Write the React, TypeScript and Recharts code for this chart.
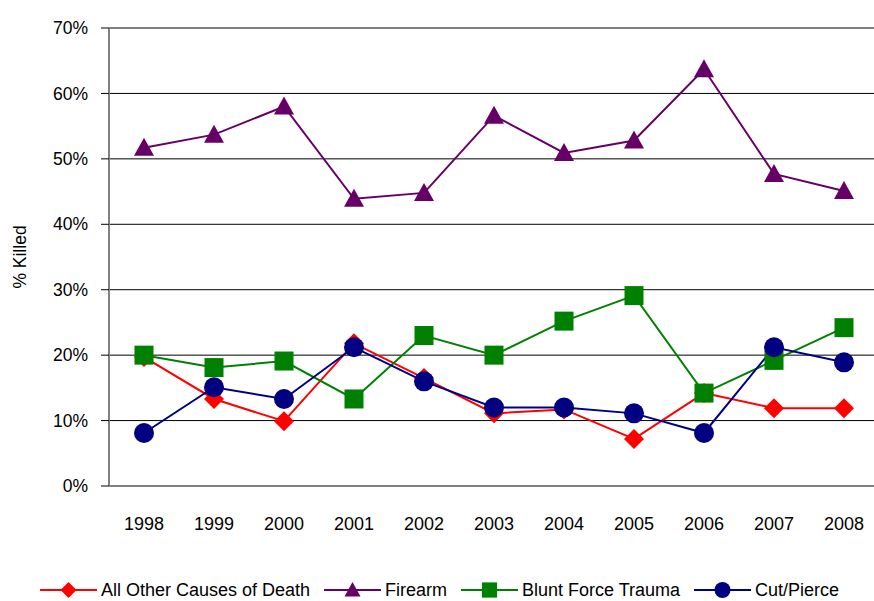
import React from "react";
import { LineChart, Line, XAxis, YAxis, CartesianGrid, Legend } from "recharts";

const years = [1998, 1999, 2000, 2001, 2002, 2003, 2004, 2005, 2006, 2007, 2008];
const allOther = [19.7, 13.3, 9.9, 21.8, 16.5, 11.1, 11.7, 7.2, 14.2, 11.9, 11.9];
const firearm = [51.7, 53.7, 58.0, 43.9, 44.8, 56.6, 50.9, 52.8, 63.7, 47.7, 45.1];
const blunt = [20.0, 18.1, 19.1, 13.3, 23.0, 20.0, 25.2, 29.1, 14.2, 19.2, 24.2];
const cutPierce = [8.1, 15.1, 13.3, 21.2, 16.0, 12.0, 12.0, 11.1, 8.1, 21.2, 18.9];
const yTicks = [0, 10, 20, 30, 40, 50, 60, 70];
const boundaryTicks = [1997.5, 1998.5, 1999.5, 2000.5, 2001.5, 2002.5, 2003.5, 2004.5, 2005.5, 2006.5, 2007.5];

const data = years.map((year, i) => ({
  year,
  allOther: allOther[i],
  firearm: firearm[i],
  blunt: blunt[i],
  cutPierce: cutPierce[i],
}));

const FONT = "'Liberation Sans', Arial, sans-serif";

type Shape = "diamond" | "triangle" | "square" | "circle";

function marker(shape: Shape, cx: number, cy: number, color: string, s: number) {
  if (shape === "diamond")
    return <path d={`M${cx},${cy - s}L${cx + s},${cy}L${cx},${cy + s}L${cx - s},${cy}Z`} fill={color} />;
  if (shape === "triangle")
    return <path d={`M${cx},${cy - s}L${cx + s},${cy + s * 0.8}L${cx - s},${cy + s * 0.8}Z`} fill={color} />;
  if (shape === "square")
    return <rect x={cx - s * 0.95} y={cy - s * 0.95} width={s * 1.9} height={s * 1.9} fill={color} />;
  return <circle cx={cx} cy={cy} r={s} fill={color} />;
}

const series: { key: string; name: string; color: string; shape: Shape }[] = [
  { key: "allOther", name: "All Other Causes of Death", color: "#ff0000", shape: "diamond" },
  { key: "firearm", name: "Firearm", color: "#660066", shape: "triangle" },
  { key: "blunt", name: "Blunt Force Trauma", color: "#008000", shape: "square" },
  { key: "cutPierce", name: "Cut/Pierce", color: "#000080", shape: "circle" },
];

function LegendContent() {
  return (
    <div style={{ display: "flex", justifyContent: "center", height: 22, paddingTop: 2, alignItems: "center", fontFamily: FONT, fontSize: 18 }}>
      {series.map((s, i) => (
        <div key={s.key} style={{ display: "flex", alignItems: "center", marginLeft: i === 0 ? 0 : 14 }}>
          <svg width={57} height={20}>
            <line x1={0} y1={10} x2={57} y2={10} stroke={s.color} strokeWidth={2} />
            {marker(s.shape, 28.5, 10, s.color, 8)}
          </svg>
          <span style={{ marginLeft: 4, color: "#000" }}>{s.name}</span>
        </div>
      ))}
    </div>
  );
}

export default function App() {
  return (
    <div style={{ position: "absolute", left: 0, top: 0, fontFamily: FONT }}>
      <LineChart width={874} height={601} data={data} margin={{ top: 28, right: -5, left: 0, bottom: 0 }}>
        <CartesianGrid vertical={false} stroke="#000" strokeWidth={1} />
        <XAxis
          xAxisId="frame"
          dataKey="year"
          type="number"
          domain={[1997.5, 2008.5]}
          ticks={boundaryTicks}
          tick={false}
          height={0}
          tickSize={7}
          stroke="#808080"
          axisLine={{ stroke: "#808080", strokeWidth: 2 }}
          tickLine={{ stroke: "#808080", strokeWidth: 2 }}
        />
        <XAxis
          xAxisId="labels"
          dataKey="year"
          type="number"
          domain={[1997.5, 2008.5]}
          ticks={years}
          axisLine={false}
          tickLine={false}
          height={91}
          tickSize={7}
          tickMargin={24}
          tick={{ fill: "#000", fontSize: 18, fontFamily: FONT }}
        />
        <YAxis
          domain={[0, 70]}
          ticks={yTicks}
          width={109}
          tickFormatter={(v: number) => `${v}%`}
          tickSize={8}
          tickMargin={13}
          axisLine={{ stroke: "#808080", strokeWidth: 2 }}
          tickLine={{ stroke: "#000" }}
          tick={{ fill: "#000", fontSize: 17.5, fontFamily: FONT }}
          label={{
            value: "% Killed",
            angle: -90,
            position: "insideLeft",
            offset: 20,
            style: { textAnchor: "middle", fill: "#000", fontSize: 17.5, fontFamily: FONT },
          }}
        />
        <Legend verticalAlign="bottom" content={() => <LegendContent />} />
        {series.map((s) => (
          <Line
            key={s.key}
            xAxisId="labels"
            dataKey={s.key}
            name={s.name}
            type="linear"
            stroke={s.color}
            strokeWidth={2}
            isAnimationActive={false}
            dot={(p: any) => <g key={`${s.key}-${p.index}`}>{marker(s.shape, p.cx, p.cy, s.color, 10)}</g>}
            activeDot={false}
          />
        ))}
      </LineChart>
    </div>
  );
}
